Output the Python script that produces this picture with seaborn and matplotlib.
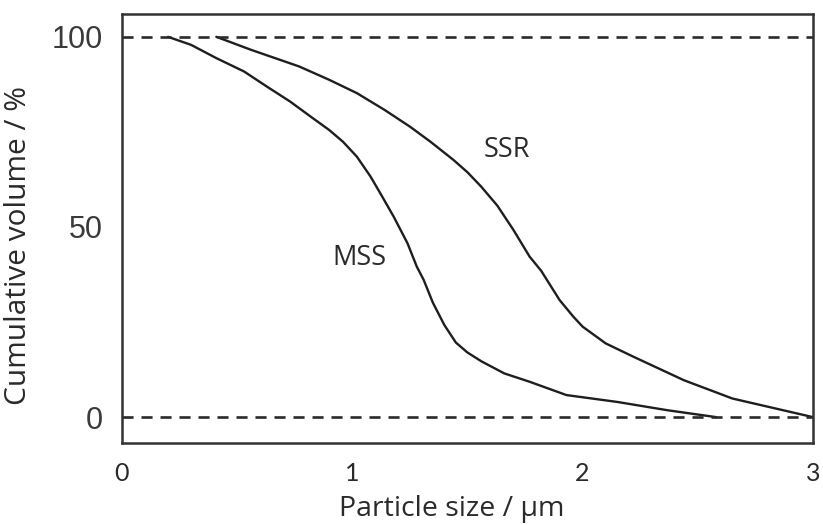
import matplotlib
matplotlib.use("Agg")
import matplotlib.pyplot as plt
import seaborn as sns
import pandas as pd

# curve values
mss_x = [0.20, 0.30, 0.41, 0.53, 0.63, 0.73, 0.82, 0.90, 0.96, 1.02, 1.08, 1.13, 1.18, 1.24,
         1.28, 1.31, 1.35, 1.40, 1.45, 1.50, 1.56, 1.66, 1.77, 1.93, 2.15, 2.37, 2.58]
mss_y = [100, 97.9, 94.4, 90.9, 86.9, 83.0, 79.0, 75.5, 72.4, 68.5, 63.2, 58.0, 52.7, 45.7,
         39.6, 36.1, 30.1, 24.2, 19.6, 17.0, 14.7, 11.5, 9.3, 5.8, 4.0, 1.8, 0]

ssr_x = [0.41, 0.56, 0.77, 0.90, 1.02, 1.14, 1.25, 1.34, 1.44, 1.50, 1.56, 1.63, 1.70, 1.77,
         1.82, 1.90, 1.96, 2.00, 2.10, 2.22, 2.44, 2.65, 3.00]
ssr_y = [100, 96.6, 92.2, 88.7, 85.2, 80.8, 76.4, 72.4, 67.6, 64.4, 60.6, 55.6, 49.2, 42.2,
         38.5, 30.8, 26.4, 23.8, 19.4, 15.9, 9.7, 4.9, 0]

ref_levels = [0, 100]
x_ticks = [0, 1, 2, 3]
y_ticks = [0, 50, 100]

sns.set_theme(style="white")
plt.rcParams['font.family'] = ['Lato', 'DejaVu Sans']
label_font = ['Open Sans', 'DejaVu Sans']

line_col = '#1e1e1e'
text_col = '#2a2a2a'

fig = plt.figure(figsize=(8.23, 5.25), dpi=100)
ax = fig.add_axes([0.1481, 0.1562, 0.8397, 0.8171])

df_mss = pd.DataFrame({'x': mss_x, 'y': mss_y})
df_ssr = pd.DataFrame({'x': ssr_x, 'y': ssr_y})
sns.lineplot(data=df_mss, x='x', y='y', sort=False, estimator=None, color=line_col, lw=1.7, ax=ax)
sns.lineplot(data=df_ssr, x='x', y='y', sort=False, estimator=None, color=line_col, lw=1.7, ax=ax)

for lvl in ref_levels:
    ax.axhline(lvl, color='#2a2a2a', lw=1.9, dashes=(4.2, 3.0))

ax.set_xlim(0, 3)
ax.set_ylim(-6.8, 106)

ax.set_xticks(x_ticks)
ax.set_yticks(y_ticks)
ax.set_yticklabels([str(v) for v in y_ticks], family=['Liberation Sans', 'DejaVu Sans'], fontsize=22)
ax.set_xticklabels([str(v) for v in x_ticks], fontsize=18)
ax.tick_params(axis='x', direction='in', length=12, width=1.6, color='#333333', pad=14, labelcolor=text_col)
ax.tick_params(axis='y', direction='in', length=17, width=1.6, color='#333333', pad=14, labelcolor='#3a3a3a')
# only the 50 tick has a visible tick mark on the y axis
for i, t in enumerate(ax.yaxis.get_major_ticks()):
    if y_ticks[i] != 50:
        t.tick1line.set_visible(False)
for i, t in enumerate(ax.xaxis.get_major_ticks()):
    if x_ticks[i] in (0, 3):
        t.tick1line.set_visible(False)

for sp in ax.spines.values():
    sp.set_visible(True)
    sp.set_color('#333333')
    sp.set_linewidth(1.8)

ax.set_xlabel('Particle size / \u03bcm', fontsize=20.5, color=text_col, family=label_font)
ax.set_ylabel('Cumulative volume / %', fontsize=21.5, color=text_col, family=label_font)
ax.xaxis.set_label_coords(0.477, -0.122)
ax.yaxis.set_label_coords(-0.128, 0.46)

ax.text(1.67, 70.3, 'SSR', fontsize=19.5, color=text_col, ha='center', va='center', family=label_font)
ax.text(1.03, 41.8, 'MSS', fontsize=19.5, color=text_col, ha='center', va='center', family=label_font)

fig.savefig('out.png', dpi=100)
